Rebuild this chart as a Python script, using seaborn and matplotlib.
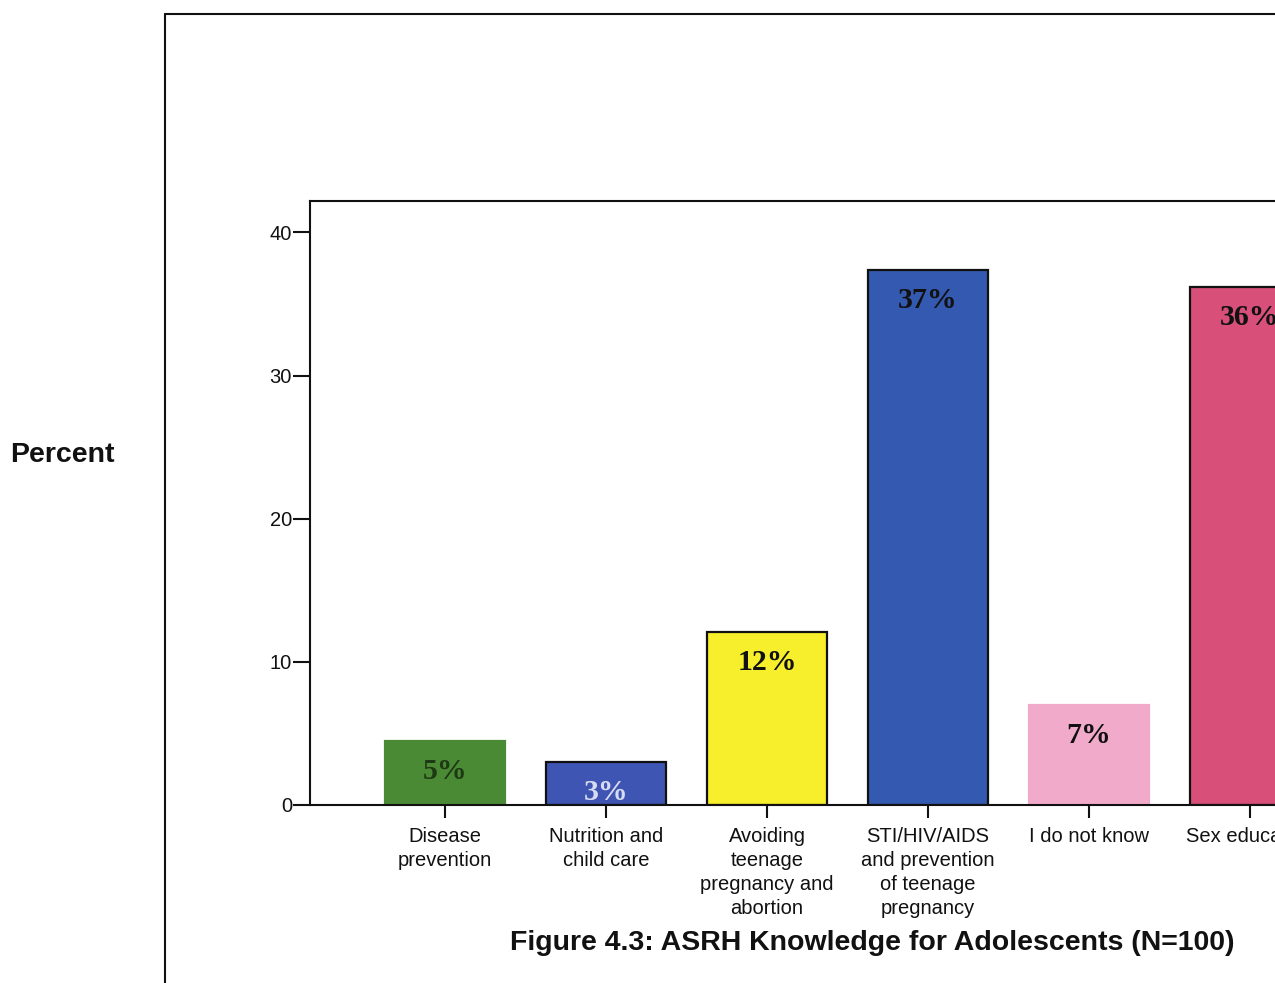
import matplotlib
matplotlib.use("Agg")
import pandas as pd
import seaborn as sns
import matplotlib.pyplot as plt
from matplotlib.lines import Line2D

# --- Data ---
categories = [
    "Disease\nprevention",
    "Nutrition and\nchild care",
    "Avoiding\nteenage\npregnancy and\nabortion",
    "STI/HIV/AIDS\nand prevention\nof teenage\npregnancy",
    "I do not know",
    "Sex education",
]
percent = [4.5, 3.0, 12.1, 37.4, 7.0, 36.2]
bar_labels = ["5%", "3%", "12%", "37%", "7%", "36%"]

bar_colors = ["#4b8a34", "#3f55b3", "#f7ef2c", "#3459b0", "#f2aacb", "#d8507a"]
edge_colors = ["#4b8a34", "#111111", "#111111", "#111111", "#f2aacb", "#111111"]
label_colors = ["#1e3a14", "#d8dcf2", "#111111", "#111111", "#111111", "#111111"]

df = pd.DataFrame({"category": categories, "percent": percent})

# --- Figure ---
sns.set_theme(style="white")
plt.rcParams["font.family"] = ["Liberation Sans", "DejaVu Sans"]

fig = plt.figure(figsize=(12.75, 9.83), dpi=100)
ax = fig.add_axes([310 / 1275, 1 - 805 / 983, 1075 / 1275, (805 - 201) / 983])

sns.barplot(
    data=df, x="category", y="percent", hue="category",
    palette=bar_colors, legend=False, width=0.745, ax=ax,
    linewidth=1.6, saturation=1,
)
for patch, ec in zip(ax.patches, edge_colors):
    patch.set_edgecolor(ec)

for i, (v, lab, lc) in enumerate(zip(percent, bar_labels, label_colors)):
    ax.annotate(
        lab, (i, v), xytext=(0, -22), textcoords="offset points",
        ha="center", va="center", fontsize=21.5, fontweight="bold",
        family=["Liberation Serif", "DejaVu Serif"], color=lc,
    )

ax.set_xlim(-0.84, 5.84)
ax.set_ylim(0, 42.2)
ax.set_yticks([0, 10, 20, 30, 40])
ax.set_xlabel("")
ax.set_ylabel("")
ax.tick_params(axis="y", direction="out", length=12, width=1.5, pad=1,
               labelsize=14.5, left=True, colors="#111111")
ax.tick_params(axis="x", direction="out", length=9, width=1.5, pad=7,
               labelsize=14.5, bottom=True, colors="#111111")
plt.setp(ax.get_xticklabels(), linespacing=1.33)
for side in ["left", "top", "bottom"]:
    ax.spines[side].set_visible(True)
    ax.spines[side].set_color("#111111")
    ax.spines[side].set_linewidth(1.5)
ax.spines["right"].set_visible(False)

# outer frame of the scanned figure
fig.add_artist(Line2D([165 / 1275, 1.0], [1 - 14 / 983, 1 - 14 / 983],
                      transform=fig.transFigure, color="#111111", lw=1.5))
fig.add_artist(Line2D([165 / 1275, 165 / 1275], [1 - 14 / 983, 0.0],
                      transform=fig.transFigure, color="#111111", lw=1.5))

fig.text(10 / 1275, 1 - 455 / 983, "Percent", ha="left", va="center",
         fontsize=20.5, fontweight="bold", color="#111111")
fig.text(872 / 1275, 1 - 943 / 983,
         "Figure 4.3: ASRH Knowledge for Adolescents (N=100)",
         ha="center", va="center", fontsize=20.5, fontweight="bold", color="#111111")

fig.savefig("out.png", dpi=100)
